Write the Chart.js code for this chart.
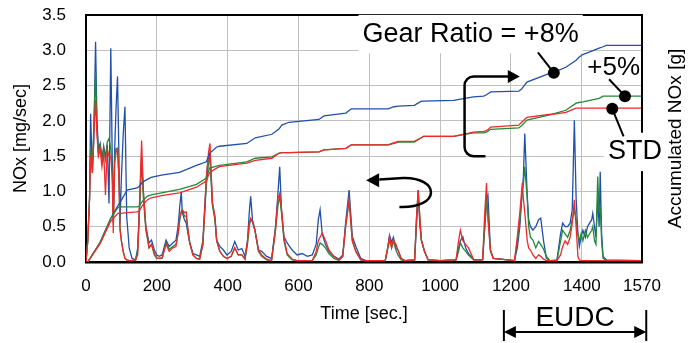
<!DOCTYPE html>
<html>
<head>
<meta charset="utf-8">
<script src="https://cdn.jsdelivr.net/npm/chart.js@4.4.1/dist/chart.umd.min.js"></script>
<style>
  html, body { margin: 0; padding: 0; background: #fff; }
  #wrap { width: 698px; height: 343px; }
</style>
</head>
<body>
<div id="wrap"><canvas id="noxChart" width="698" height="343"></canvas></div>
<script>
// axis ticks
const timeTicks = [0, 200, 400, 600, 800, 1000, 1200, 1400, 1570];
const noxTicks = [0, 0.5, 1.0, 1.5, 2.0, 2.5, 3.0, 3.5];

// NOx rate [mg/sec]
const rateTime = [
  0, 5, 10, 13, 18, 22, 27, 31, 35, 40,
  45, 50, 55, 60, 65, 70, 74, 77, 81, 85,
  89, 93, 96, 100, 105, 110, 115, 122, 130, 140,
  146, 151, 157, 162, 169, 178, 185, 193, 200, 207,
  215, 226, 235, 245, 254, 260, 265, 269, 272, 278,
  283, 288, 293, 302, 312, 321, 330, 340, 346, 350,
  357, 364, 369, 378, 388, 398, 410, 420, 430, 440,
  449, 456, 461, 465, 470, 477, 487, 496, 510, 524,
  535, 542, 547, 552, 559, 568, 582, 596, 610, 625,
  639, 650, 656, 661, 667, 676, 686, 700, 714, 725,
  733, 743, 752, 762, 776, 790, 845, 852, 857, 863,
  868, 875, 881, 890, 900, 928, 933, 938, 943, 947,
  956, 966, 1000, 1045, 1052, 1057, 1064, 1072, 1080, 1095,
  1120, 1126, 1131, 1135, 1142, 1150, 1210, 1218, 1225, 1232,
  1235, 1239, 1246, 1250, 1255, 1262, 1270, 1278, 1284, 1292,
  1300, 1310, 1330, 1340, 1346, 1353, 1360, 1367, 1373, 1379,
  1384, 1389, 1393, 1398, 1403, 1410, 1416, 1422, 1428, 1431,
  1436, 1440, 1445, 1449, 1452, 1456, 1460, 1470, 1570
];
const rate8 = [
  0, 0.3, 0.9, 2.10, 1.26, 1.7, 3.12, 2.0, 1.60, 1.68,
  1.45, 1.64, 1.49, 1.66, 0.83, 3.03, 1.5, 0.55, 1.6, 2.2,
  2.63, 1.5, 0.55, 1.2, 1.8, 2.20, 0.64, 0.2, 0.05, 0.03,
  0.2, 0.8, 1.49, 1.0, 0.5, 0.27, 0.31, 0.17, 0.1, 0.08,
  0.1, 0.31, 0.22, 0.27, 0.31, 0.5, 0.8, 0.99, 0.7, 0.6,
  0.55, 0.4, 0.27, 0.12, 0.1, 0.08, 0.3, 1.21, 1.5, 1.54,
  0.83, 0.64, 0.31, 0.22, 0.17, 0.1, 0.15, 0.29, 0.17, 0.19,
  0.08, 0.3, 0.7, 0.93, 0.6, 0.45, 0.17, 0.15, 0.08, 0.05,
  0.5, 0.97, 1.35, 0.74, 0.36, 0.27, 0.17, 0.1, 0.12, 0.08,
  0.1, 0.25, 0.6, 0.74, 0.4, 0.25, 0.15, 0.08, 0.04, 0.1,
  0.55, 1.02, 0.36, 0.22, 0.05, 0.02, 0.02, 0.2, 0.38, 0.28,
  0.35, 0.2, 0.17, 0.05, 0.02, 0.03, 0.5, 0.95, 0.5, 0.31,
  0.15, 0.03, 0.02, 0.03, 0.2, 0.3, 0.36, 0.2, 0.12, 0.03,
  0.03, 0.5, 0.9, 0.95, 0.17, 0.05, 0.02, 0.2, 0.5, 1.02,
  1.2, 1.82, 0.93, 0.6, 0.5, 0.45, 0.5, 0.6, 0.62, 0.3,
  0.05, 0.02, 0.03, 0.4, 0.55, 0.5, 0.5, 0.55, 0.74, 2.01,
  0.9, 0.4, 0.22, 0.35, 0.45, 0.35, 0.5, 0.55, 0.6, 0.69,
  0.5, 0.35, 0.9, 0.5, 1.28, 0.4, 0.08, 0.03, 0.02
];
const rate5 = [
  0, 0.3, 0.9, 1.6, 1.4, 1.9, 2.70, 1.9, 1.55, 1.65,
  1.5, 1.6, 1.45, 1.7, 1.75, 1.6, 1.3, 0.6, 1.5, 1.61,
  1.6, 1.2, 0.5, 0.3, 0.15, 0.05, 0.03, 0.02, 0.02, 0.03,
  0.15, 0.7, 1.45, 0.9, 0.45, 0.2, 0.25, 0.1, 0.05, 0.05,
  0.05, 0.28, 0.18, 0.22, 0.25, 0.4, 0.6, 0.7, 0.74, 0.65,
  0.65, 0.45, 0.27, 0.1, 0.05, 0.04, 0.25, 1.1, 1.4, 1.49,
  0.8, 0.6, 0.3, 0.15, 0.08, 0.05, 0.08, 0.2, 0.1, 0.1,
  0.04, 0.25, 0.5, 0.6, 0.57, 0.45, 0.15, 0.08, 0.03, 0.02,
  0.45, 0.8, 0.93, 0.7, 0.3, 0.1, 0.03, 0.02, 0.02, 0.02,
  0.02, 0.1, 0.2, 0.27, 0.25, 0.2, 0.12, 0.05, 0.02, 0.08,
  0.5, 0.88, 0.3, 0.15, 0.03, 0.02, 0.02, 0.2, 0.3, 0.2,
  0.3, 0.17, 0.1, 0.03, 0.02, 0.03, 0.6, 1.02, 0.6, 0.31,
  0.15, 0.03, 0.02, 0.03, 0.15, 0.27, 0.2, 0.15, 0.1, 0.03,
  0.03, 0.5, 0.83, 0.7, 0.15, 0.05, 0.02, 0.3, 0.6, 1.0,
  1.1, 1.35, 0.9, 0.5, 0.35, 0.31, 0.2, 0.29, 0.25, 0.18,
  0.08, 0.02, 0.02, 0.3, 0.45, 0.4, 0.35, 0.45, 0.6, 0.74,
  0.6, 0.4, 0.3, 0.4, 0.3, 0.45, 0.35, 0.4, 0.45, 0.5,
  0.3, 0.25, 1.21, 0.7, 0.8, 0.3, 0.05, 0.02, 0.02
];
const rateStd = [
  0, 0.3, 0.9, 1.5, 1.26, 1.8, 2.3, 1.8, 1.5, 1.6,
  1.35, 1.55, 0.95, 1.6, 1.5, 1.5, 1.2, 0.41, 1.4, 1.55,
  1.6, 1.2, 0.45, 0.3, 0.15, 0.05, 0.03, 0.02, 0.02, 0.03,
  0.1, 0.8, 1.72, 1.0, 0.5, 0.2, 0.25, 0.12, 0.06, 0.05,
  0.06, 0.25, 0.15, 0.2, 0.22, 0.4, 0.65, 0.72, 0.74, 0.7,
  0.71, 0.45, 0.27, 0.1, 0.05, 0.04, 0.25, 1.2, 1.55, 1.68,
  0.85, 0.64, 0.3, 0.15, 0.08, 0.05, 0.08, 0.2, 0.1, 0.1,
  0.04, 0.3, 0.55, 0.62, 0.57, 0.45, 0.17, 0.1, 0.04, 0.02,
  0.45, 0.9, 0.97, 0.75, 0.35, 0.12, 0.04, 0.02, 0.02, 0.02,
  0.02, 0.15, 0.3, 0.35, 0.41, 0.31, 0.17, 0.08, 0.03, 0.08,
  0.5, 0.88, 0.3, 0.15, 0.03, 0.02, 0.02, 0.2, 0.36, 0.2,
  0.31, 0.25, 0.17, 0.05, 0.02, 0.03, 0.6, 1.02, 0.6, 0.31,
  0.15, 0.03, 0.02, 0.03, 0.3, 0.45, 0.3, 0.25, 0.2, 0.03,
  0.03, 0.7, 1.12, 0.6, 0.17, 0.05, 0.02, 0.36, 0.7, 1.12,
  0.9, 0.7, 0.3, 0.2, 0.17, 0.1, 0.05, 0.1, 0.08, 0.04,
  0.02, 0.02, 0.02, 0.1, 0.22, 0.3, 0.25, 0.35, 0.55, 0.88,
  0.5, 0.08, 0.03, 0.02, 0.02, 0.02, 0.02, 0.02, 0.02, 0.02,
  0.02, 0.02, 0.02, 0.02, 0.02, 0.02, 0.02, 0.02, 0.02
];

// accumulated NOx, right axis
const accTime = [
  5, 40, 70, 90, 98, 116, 144, 150, 159, 173,
  184, 213, 264, 312, 340, 349, 369, 377, 454, 478,
  525, 544, 553, 573, 658, 672, 734, 749, 853, 870,
  882, 927, 947, 953, 1038, 1094, 1123, 1131, 1143, 1222,
  1230, 1245, 1307, 1327, 1355, 1384, 1392, 1403, 1449, 1460,
  1469, 1570
];
const acc8 = [
  0, 0.28, 0.62, 0.80, 0.86, 1.02, 1.05, 1.07, 1.13, 1.17,
  1.20, 1.23, 1.27, 1.37, 1.42, 1.54, 1.63, 1.64, 1.68, 1.76,
  1.81, 1.88, 1.94, 1.98, 2.02, 2.07, 2.11, 2.17, 2.17, 2.20,
  2.21, 2.22, 2.28, 2.28, 2.29, 2.34, 2.35, 2.37, 2.41, 2.42,
  2.45, 2.55, 2.67, 2.70, 2.76, 2.86, 2.90, 2.94, 3.03, 3.05,
  3.07, 3.07
];
const acc5 = [
  0, 0.28, 0.62, 0.77, 0.78, 0.78, 0.78, 0.79, 0.86, 0.93,
  0.95, 0.98, 1.03, 1.10, 1.19, 1.33, 1.36, 1.37, 1.42, 1.47,
  1.49, 1.54, 1.55, 1.55, 1.56, 1.59, 1.61, 1.66, 1.66, 1.68,
  1.70, 1.70, 1.76, 1.78, 1.78, 1.83, 1.83, 1.84, 1.88, 1.90,
  1.93, 2.01, 2.08, 2.11, 2.15, 2.25, 2.26, 2.27, 2.32, 2.35,
  2.35, 2.35
];
const accStd = [
  0, 0.26, 0.58, 0.69, 0.69, 0.70, 0.71, 0.72, 0.80, 0.88,
  0.91, 0.94, 0.98, 1.06, 1.15, 1.27, 1.33, 1.35, 1.40, 1.44,
  1.47, 1.54, 1.55, 1.55, 1.56, 1.59, 1.61, 1.66, 1.66, 1.69,
  1.71, 1.71, 1.76, 1.78, 1.78, 1.84, 1.85, 1.86, 1.91, 1.94,
  1.98, 2.05, 2.09, 2.10, 2.12, 2.18, 2.18, 2.18, 2.18, 2.18,
  2.18, 2.18
];

const FONT = "'Liberation Sans', Arial, sans-serif";
const RED = '#ee2b2b', GREEN = '#23883a', BLUE = '#2150aa';

const toXY = (ts, vs) => ts.map((t, i) => ({ x: t, y: vs[i] }));

function line(data, color, axis) {
  return { data, borderColor: color, borderWidth: 1.3, pointRadius: 0, tension: 0, yAxisID: axis };
}

// texts, arrows and markers drawn over the plot
const annotations = {
  id: 'annotations',
  afterDraw(chart) {
    const { ctx, chartArea: a, scales: { x, y } } = chart;
    const px = t => x.getPixelForValue(t);
    const py = v => y.getPixelForValue(v);
    ctx.save();

    // top and right frame
    ctx.strokeStyle = '#000';
    ctx.lineWidth = 2;
    ctx.beginPath();
    ctx.moveTo(a.left, a.top);
    ctx.lineTo(a.right, a.top);
    ctx.lineTo(a.right, a.bottom);
    ctx.stroke();

    // right axis title, reads bottom to top
    ctx.fillStyle = '#000';
    ctx.font = '19px ' + FONT;
    ctx.textAlign = 'center';
    ctx.textBaseline = 'middle';
    ctx.save();
    ctx.translate(676, (a.top + a.bottom) / 2);
    ctx.rotate(-Math.PI / 2);
    ctx.fillText('Accumulated NOx [g]', 0, 0);
    ctx.restore();

    const label = (text, cx, cy, size, box) => {
      ctx.font = size + 'px ' + FONT;
      if (box) {
        const w = ctx.measureText(text).width;
        ctx.fillStyle = '#fff';
        ctx.fillRect(cx - w / 2 - 4, cy - size * 0.6 - 3, w + 8, size * 1.2 + 6);
      }
      ctx.fillStyle = '#000';
      ctx.fillText(text, cx, cy);
    };
    const dot = (cx, cy) => {
      ctx.beginPath();
      ctx.arc(cx, cy, 6, 0, Math.PI * 2);
      ctx.fill();
    };
    const seg = (x1, y1, x2, y2) => {
      ctx.beginPath();
      ctx.moveTo(x1, y1);
      ctx.lineTo(x2, y2);
      ctx.stroke();
    };
    const head = (tx, ty, dir, len, half) => {
      ctx.beginPath();
      ctx.moveTo(tx, ty);
      ctx.lineTo(tx - dir * len, ty - half);
      ctx.lineTo(tx - dir * len, ty + half);
      ctx.closePath();
      ctx.fill();
    };

    label('Gear Ratio = +8%', px(1086), py(3.23), 27, true);
    label('+5%', px(1490), py(2.75), 26, false);
    label('STD', px(1550), py(1.56), 27, true);

    ctx.fillStyle = '#000';
    ctx.lineWidth = 2;
    seg(px(1276), py(2.97), px(1321), py(2.68));
    dot(px(1321), py(2.68));
    seg(px(1477), py(2.59), px(1522), py(2.35));
    dot(px(1522), py(2.35));
    seg(px(1486), py(2.17), px(1518), py(1.78));
    dot(px(1486), py(2.17));

    // bracket pointing to the right axis
    ctx.lineWidth = 2.5;
    ctx.beginPath();
    ctx.moveTo(px(1128), py(1.50));
    ctx.arcTo(px(1069), py(1.50), px(1069), py(2.0), 9);
    ctx.arcTo(px(1069), py(2.63), px(1120), py(2.63), 9);
    ctx.lineTo(px(1194), py(2.63));
    ctx.stroke();
    head(px(1225), py(2.63), 1, 12, 6.5);

    // curl pointing to the left axis
    ctx.beginPath();
    ctx.moveTo(px(828), py(1.17));
    ctx.lineTo(px(896), py(1.19));
    ctx.bezierCurveTo(px(1000), py(1.20), px(1004), py(0.76), px(885), py(0.78));
    ctx.stroke();
    head(px(791), py(1.16), -1, 13, 7);

    // EUDC span below the axis
    const e1 = px(1180), e2 = px(1582);
    ctx.lineWidth = 2;
    seg(e1, 310, e1, 341);
    seg(e2, 310, e2, 341);
    seg(e1 + 10, 332, e2 - 10, 332);
    head(e1, 332, -1, 12, 6);
    head(e2, 332, 1, 12, 6);
    label('EUDC', (e1 + e2) / 2, 318, 28, false);

    ctx.restore();
  }
};

new Chart(document.getElementById('noxChart'), {
  type: 'line',
  data: {
    datasets: [
      line(toXY(accTime, accStd), RED, 'y1'),
      line(toXY(accTime, acc5), GREEN, 'y1'),
      line(toXY(accTime, acc8), BLUE, 'y1'),
      line(toXY(rateTime, rateStd), RED, 'y'),
      line(toXY(rateTime, rate5), GREEN, 'y'),
      line(toXY(rateTime, rate8), BLUE, 'y')
    ]
  },
  options: {
    responsive: false,
    animation: false,
    layout: { padding: { left: 0, right: 0, top: 15, bottom: 0 } },
    plugins: { legend: { display: false }, tooltip: { enabled: false } },
    scales: {
      x: {
        type: 'linear',
        min: 0,
        max: 1570,
        afterBuildTicks: s => { s.ticks = timeTicks.map(v => ({ value: v })); },
        afterFit: s => { s.height = 81; },
        ticks: { color: '#000', font: { family: FONT, size: 17 }, padding: 14, maxRotation: 0, autoSkip: false, callback: v => String(v) },
        grid: { color: '#c0c0c0', lineWidth: 1, drawTicks: false },
        border: { color: '#000', width: 2.5 },
        title: { display: true, text: 'Time [sec.]', color: '#000', font: { family: FONT, size: 18 }, padding: { top: 0, bottom: 18 } }
      },
      y: {
        position: 'left',
        min: 0,
        max: 3.5,
        afterBuildTicks: s => { s.ticks = noxTicks.map(v => ({ value: v })); },
        afterFit: s => { s.width = 86; s.paddingTop = 0; s.paddingBottom = 0; },
        ticks: { color: '#000', font: { family: FONT, size: 17 }, padding: 20, callback: v => v.toFixed(1) },
        grid: { color: '#c0c0c0', lineWidth: 1, drawTicks: false },
        border: { color: '#000', width: 2 },
        title: { display: true, text: 'NOx [mg/sec]', color: '#000', font: { family: FONT, size: 18 }, padding: { top: 10, bottom: 0 } }
      },
      y1: {
        position: 'right',
        min: 0,
        max: 3.5,
        afterFit: s => { s.width = 56; s.paddingTop = 0; s.paddingBottom = 0; },
        ticks: { display: false },
        grid: { display: false, drawTicks: false },
        border: { color: '#000', width: 2 }
      }
    }
  },
  plugins: [annotations]
});
</script>
</body>
</html>
